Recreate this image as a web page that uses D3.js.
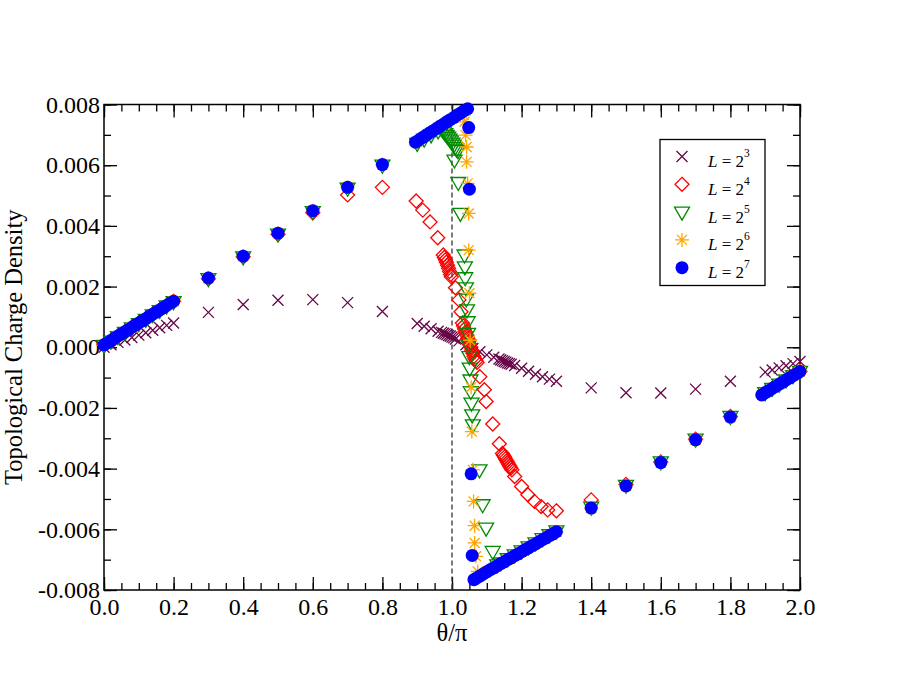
<!DOCTYPE html>
<html>
<head>
<meta charset="utf-8">
<script src="https://cdn.jsdelivr.net/npm/d3@7"></script>
<style>
  body { margin: 0; background: #fff; }
  text { font-family: "Liberation Serif", "Times New Roman", serif; }
</style>
</head>
<body>
<script>
// ---- data: [theta/pi, density] ----
const l8 = [
  [0.00,0.00000],[0.02,0.00008],[0.04,0.00016],[0.06,0.00024],[0.08,0.00032],[0.10,0.00040],
  [0.12,0.00048],[0.14,0.00056],[0.16,0.00064],[0.18,0.00072],[0.20,0.00080],
  [0.30,0.00115],[0.40,0.00141],[0.50,0.00155],[0.60,0.00157],[0.70,0.00147],[0.80,0.00118],
  [0.90,0.00078],[0.92,0.00069],[0.94,0.00061],[0.96,0.00053],[0.97,0.00049],[0.975,0.00046],
  [0.98,0.00044],[0.985,0.00042],[0.99,0.00039],[0.995,0.00037],[1.00,0.00034],[1.005,0.00031],
  [1.01,0.00027],[1.02,0.00021],[1.04,0.00008],[1.06,-0.00004],[1.08,-0.00015],[1.10,-0.00025],
  [1.12,-0.00033],[1.135,-0.00039],[1.14,-0.00042],[1.145,-0.00044],[1.15,-0.00047],[1.155,-0.00049],
  [1.16,-0.00052],[1.165,-0.00054],[1.17,-0.00056],[1.18,-0.00060],[1.20,-0.00069],[1.22,-0.00079],
  [1.24,-0.00089],[1.26,-0.00097],[1.28,-0.00105],[1.30,-0.00112],
  [1.40,-0.00134],[1.50,-0.00150],[1.60,-0.00151],[1.70,-0.00138],[1.80,-0.00112],
  [1.90,-0.00082],[1.92,-0.00075],[1.94,-0.00068],[1.96,-0.00061],[1.98,-0.00054],[2.00,-0.00047]
];

const l16 = [
  [0.00,0.00008],[0.02,0.00022],[0.04,0.00037],[0.06,0.00051],[0.08,0.00066],[0.10,0.00080],
  [0.12,0.00094],[0.14,0.00109],[0.16,0.00123],[0.18,0.00138],[0.20,0.00152],
  [0.30,0.00226],[0.40,0.00298],[0.50,0.00372],[0.60,0.00443],[0.70,0.00502],[0.80,0.00527],
  [0.897,0.00482],[0.916,0.00452],[0.937,0.00413],[0.959,0.00361],
  [0.975,0.00304],[0.978,0.00296],[0.981,0.00288],[0.984,0.00280],[0.987,0.00270],[0.990,0.00260],
  [0.993,0.00250],[0.996,0.00240],[0.998,0.00232],
  [1.010,0.00196],[1.020,0.00156],[1.026,0.00117],
  [1.030,0.00080],[1.033,0.00070],[1.036,0.00060],[1.039,0.00050],[1.042,0.00040],[1.045,0.00030],
  [1.048,0.00020],[1.051,0.00010],[1.054,0.00000],[1.057,-0.00010],[1.060,-0.00020],[1.063,-0.00030],
  [1.066,-0.00038],[1.069,-0.00045],[1.072,-0.00050],
  [1.080,-0.00097],[1.093,-0.00140],[1.098,-0.00179],[1.117,-0.00253],[1.136,-0.00318],
  [1.145,-0.00350],[1.148,-0.00356],[1.151,-0.00362],[1.154,-0.00368],[1.157,-0.00374],[1.160,-0.00380],
  [1.163,-0.00386],[1.166,-0.00392],[1.169,-0.00398],[1.172,-0.00404],
  [1.180,-0.00426],[1.200,-0.00459],[1.218,-0.00486],[1.237,-0.00508],[1.256,-0.00525],
  [1.275,-0.00536],[1.300,-0.00539],
  [1.40,-0.00503],[1.50,-0.00452],[1.60,-0.00378],[1.70,-0.00303],[1.80,-0.00228],
  [1.90,-0.00150],[1.92,-0.00136],[1.94,-0.00122],[1.96,-0.00108],[1.98,-0.00094],[2.00,-0.00080]
];

const l32 = [
  [0.00,0.00006],[0.02,0.00020],[0.04,0.00035],[0.06,0.00049],[0.08,0.00064],[0.10,0.00078],
  [0.12,0.00092],[0.14,0.00107],[0.16,0.00121],[0.18,0.00136],[0.20,0.00150],
  [0.30,0.00226],[0.40,0.00298],[0.50,0.00373],[0.60,0.00447],[0.70,0.00524],[0.80,0.00600],
  [0.90,0.00672],[0.92,0.00686],[0.94,0.00700],[0.96,0.00713],
  [0.969,0.00721],[0.973,0.00716],[0.977,0.00710],[0.981,0.00704],[0.985,0.00698],[0.989,0.00692],
  [0.993,0.00686],[0.997,0.00680],[1.001,0.00673],[1.005,0.00666],[1.009,0.00659],[1.013,0.00653],
  [1.017,0.00648],
  [1.007,0.00617],[1.018,0.00543],[1.024,0.00441],
  [1.036,0.00304],[1.037,0.00265],[1.038,0.00229],[1.040,0.00196],[1.041,0.00159],[1.043,0.00123],
  [1.045,0.00084],[1.046,0.00046],[1.048,0.00008],[1.050,-0.00031],[1.051,-0.00069],[1.053,-0.00108],
  [1.054,-0.00146],[1.056,-0.00184],[1.058,-0.00223],[1.060,-0.00256],
  [1.079,-0.00404],[1.088,-0.00519],[1.098,-0.00596],[1.117,-0.00673],
  [1.13,-0.00717],[1.14,-0.00711],[1.16,-0.00697],[1.18,-0.00684],[1.20,-0.00671],[1.22,-0.00658],
  [1.24,-0.00645],[1.26,-0.00631],[1.28,-0.00618],[1.30,-0.00605],
  [1.40,-0.00527],[1.50,-0.00455],[1.60,-0.00378],[1.70,-0.00303],[1.80,-0.00228],
  [1.90,-0.00150],[1.92,-0.00136],[1.94,-0.00122],[1.96,-0.00108],[1.98,-0.00094],[2.00,-0.00080]
];

const l64 = [
  [0.00,0.00008],[0.04,0.00037],[0.08,0.00066],[0.12,0.00094],[0.16,0.00123],[0.20,0.00152],
  [0.30,0.00228],[0.40,0.00300],[0.50,0.00376],[0.60,0.00450],[0.70,0.00527],[0.80,0.00602],
  [0.90,0.00676],[0.94,0.00706],[0.98,0.00735],[1.02,0.00765],
  [1.034,0.00765],[1.036,0.00743],[1.039,0.00699],[1.042,0.00660],[1.042,0.00611],[1.045,0.00540],
  [1.048,0.00441],[1.048,0.00320],[1.050,0.00178],[1.052,0.00023],[1.055,-0.00132],[1.057,-0.00278],
  [1.060,-0.00404],[1.062,-0.00508],[1.065,-0.00588],[1.065,-0.00645],[1.069,-0.00689],[1.074,-0.00739],
  [1.08,-0.00753],[1.12,-0.00727],[1.16,-0.00700],[1.20,-0.00674],[1.24,-0.00648],[1.28,-0.00621],
  [1.30,-0.00608],
  [1.40,-0.00530],[1.50,-0.00457],[1.60,-0.00380],[1.70,-0.00305],[1.80,-0.00230],
  [1.90,-0.00150],[1.94,-0.00122],[1.98,-0.00094],[2.00,-0.00080]
];

const l128 = [
  [0.00,0.00008],[0.01,0.00015],[0.02,0.00022],[0.03,0.00030],[0.04,0.00037],[0.05,0.00044],
  [0.06,0.00051],[0.07,0.00058],[0.08,0.00066],[0.09,0.00073],[0.10,0.00080],[0.11,0.00087],
  [0.12,0.00094],[0.13,0.00102],[0.14,0.00109],[0.15,0.00116],[0.16,0.00123],[0.17,0.00130],
  [0.18,0.00138],[0.19,0.00145],[0.20,0.00152],
  [0.30,0.00228],[0.40,0.00300],[0.50,0.00376],[0.60,0.00450],[0.70,0.00527],[0.80,0.00602],
  [0.895,0.00676],[0.905,0.00683],[0.915,0.00691],[0.925,0.00698],[0.935,0.00706],[0.945,0.00713],
  [0.955,0.00720],[0.965,0.00728],[0.975,0.00735],[0.985,0.00743],[0.995,0.00750],[1.005,0.00757],
  [1.015,0.00765],[1.025,0.00772],[1.035,0.00780],[1.045,0.00786],
  [1.048,0.00724],[1.050,0.00521],[1.055,-0.00417],[1.058,-0.00686],
  [1.063,-0.00766],[1.07,-0.00761],[1.08,-0.00754],[1.09,-0.00747],[1.10,-0.00740],[1.11,-0.00733],
  [1.12,-0.00727],[1.13,-0.00720],[1.14,-0.00713],[1.15,-0.00707],[1.16,-0.00700],[1.17,-0.00694],
  [1.18,-0.00687],[1.19,-0.00681],[1.20,-0.00674],[1.21,-0.00667],[1.22,-0.00661],[1.23,-0.00654],
  [1.24,-0.00648],[1.25,-0.00641],[1.26,-0.00634],[1.27,-0.00628],[1.28,-0.00621],[1.29,-0.00615],
  [1.30,-0.00608],
  [1.40,-0.00530],[1.50,-0.00457],[1.60,-0.00380],[1.70,-0.00305],[1.80,-0.00230],
  [1.89,-0.00157],[1.90,-0.00150],[1.91,-0.00143],[1.92,-0.00136],[1.93,-0.00129],[1.94,-0.00122],
  [1.95,-0.00115],[1.96,-0.00108],[1.97,-0.00101],[1.98,-0.00094],[1.99,-0.00087],[2.00,-0.00080]
];

const legendExp = ["3", "4", "5", "6", "7"];
const xMajor = [0, 0.2, 0.4, 0.6, 0.8, 1.0, 1.2, 1.4, 1.6, 1.8, 2.0];
const yMajor = [-0.008, -0.006, -0.004, -0.002, 0, 0.002, 0.004, 0.006, 0.008];

// ---- layout ----
const w = 900;
const h = 695;
const pLeft = 104, pRight = 800, pTop = 104.5, pBottom = 590;

const svg = d3.select("body")
  .append("svg")
  .attr("width", w)
  .attr("height", h)
  .style("background-color", "#fff");

const xScale = d3.scaleLinear().domain([0, 2]).range([pLeft, pRight]);
const yScale = d3.scaleLinear().domain([-0.008, 0.008]).range([pBottom, pTop]);

const xMinor = d3.range(0, 41).map(i => i * 0.05);
const yMinor = d3.range(-8, 9).map(i => i * 0.001);

// axes (ticks point inward)
function axis(gen, transform, values, size, fmt, pad) {
  const g = svg.append("g")
    .attr("transform", transform)
    .call(gen.tickValues(values).tickSizeInner(-size).tickSizeOuter(0)
      .tickPadding(pad || 0).tickFormat(fmt || (() => "")));
  g.select(".domain").remove();
  g.selectAll("line").attr("stroke", "#000").attr("stroke-width", 1.3);
  g.selectAll("text").attr("font-size", "24px").attr("fill", "#000")
    .style("font-family", '"Liberation Serif", serif');
  return g;
}

axis(d3.axisBottom(xScale), `translate(0,${pBottom})`, xMinor, 7);
axis(d3.axisBottom(xScale), `translate(0,${pBottom})`, xMajor, 13, d => d.toFixed(1), 8);
axis(d3.axisTop(xScale), `translate(0,${pTop})`, xMinor, 7);
axis(d3.axisTop(xScale), `translate(0,${pTop})`, xMajor, 13);
axis(d3.axisLeft(yScale), `translate(${pLeft},0)`, yMinor, 7);
axis(d3.axisLeft(yScale), `translate(${pLeft},0)`, yMajor, 13, d => d.toFixed(3), 4);
axis(d3.axisRight(yScale), `translate(${pRight},0)`, yMinor, 7);
axis(d3.axisRight(yScale), `translate(${pRight},0)`, yMajor, 13);

// frame
svg.append("rect")
  .attr("x", pLeft).attr("y", pTop)
  .attr("width", pRight - pLeft).attr("height", pBottom - pTop)
  .attr("fill", "none").attr("stroke", "#000").attr("stroke-width", 1.5);

// dashed line at theta = pi
svg.append("line")
  .attr("x1", xScale(1)).attr("x2", xScale(1))
  .attr("y1", pTop).attr("y2", pBottom)
  .attr("stroke", "#333").attr("stroke-width", 1.3)
  .attr("stroke-dasharray", "5,3");

// axis titles
svg.append("text")
  .text("θ/π")
  .attr("x", (pLeft + pRight) / 2)
  .attr("y", 641)
  .attr("text-anchor", "middle")
  .attr("font-size", "24.5px");

svg.append("text")
  .text("Topological Charge Density")
  .attr("transform", `translate(22,${(pTop + pBottom) / 2}) rotate(-90)`)
  .attr("text-anchor", "middle")
  .attr("font-size", "24.5px");

// symbols
const crossPath = "M-5.5,-5.5L5.5,5.5M-5.5,5.5L5.5,-5.5";
const diamondPath = "M0,-7L7,0L0,7L-7,0Z";
const triPath = "M-7.5,-5L7.5,-5L0,8Z";
const starPath = "M0,-7V7M-7,0H7M-5,-5L5,5M-5,5L5,-5";

const series = [
  { data: l8, color: "#670748", path: crossPath, fill: "none" },
  { data: l16, color: "#ff0000", path: diamondPath, fill: "none" },
  { data: l32, color: "#008b00", path: triPath, fill: "none" },
  { data: l64, color: "#ffa500", path: starPath, fill: "none" },
  { data: l128, color: "#0000ff", path: null, fill: "#0000ff" }
];

const plot = svg.append("g");

series.forEach(s => {
  const g = plot.append("g");
  if (s.path) {
    g.selectAll("path")
      .data(s.data)
      .join("path")
      .attr("d", s.path)
      .attr("transform", d => `translate(${xScale(d[0])},${yScale(d[1])})`)
      .attr("fill", s.fill)
      .attr("stroke", s.color)
      .attr("stroke-width", 1.3);
  } else {
    g.selectAll("circle")
      .data(s.data)
      .join("circle")
      .attr("cx", d => xScale(d[0]))
      .attr("cy", d => yScale(d[1]))
      .attr("r", 6.5)
      .attr("fill", s.fill);
  }
});

// legend
const legend = svg.append("g").attr("id", "legend");
legend.append("rect")
  .attr("x", 660).attr("y", 139.5)
  .attr("width", 105).attr("height", 146)
  .attr("fill", "#fff").attr("stroke", "#000").attr("stroke-width", 1.3);

const item = legend.selectAll(".legend-item")
  .data(series)
  .join("g")
  .attr("class", "legend-item")
  .attr("transform", (d, i) => `translate(682, ${156.5 + i * 27.8})`);

item.filter(d => d.path).append("path")
  .attr("d", d => d.path)
  .attr("fill", "none")
  .attr("stroke", d => d.color)
  .attr("stroke-width", 1.3);

item.filter(d => !d.path).append("circle")
  .attr("r", 6.5)
  .attr("fill", d => d.fill);

const label = item.append("text")
  .attr("x", 26)
  .attr("y", 10.5)
  .attr("font-size", "17px");
label.append("tspan").attr("font-style", "italic").text("L");
label.append("tspan").text(" = 2");
label.append("tspan")
  .attr("dy", -10)
  .attr("font-size", "11.5px")
  .text((d, i) => legendExp[i]);
</script>
</body>
</html>
